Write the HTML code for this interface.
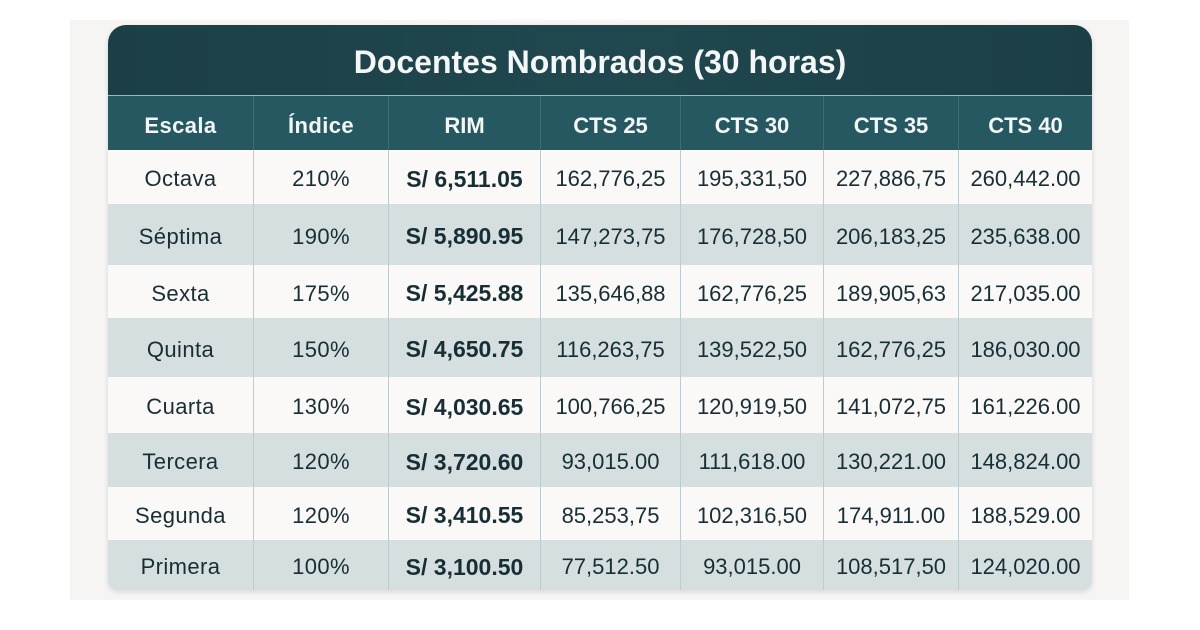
<!DOCTYPE html>
<html><head><meta charset="utf-8">
<style>
html,body{margin:0;padding:0;background:#ffffff;}
body{width:1200px;height:630px;position:relative;overflow:hidden;font-family:"Liberation Sans",sans-serif;}
.panel{position:absolute;left:70px;top:20px;width:1059px;height:580px;background:#f7f5f4;}
.tbl{position:absolute;left:108px;top:25px;width:984px;height:565px;border-radius:18px 18px 10px 10px;overflow:hidden;box-shadow:0 2px 6px rgba(0,0,0,0.12);background:#fbf9f8;}
.title{position:absolute;left:0;top:0;width:984px;height:70px;background:linear-gradient(90deg,#1c3f46,#20474f 50%,#1c3f46);color:#f4f7f7;font-weight:bold;font-size:32px;text-align:center;line-height:74px;}
.sep{position:absolute;left:0;top:70px;width:984px;height:1px;background:#9db8bd;}
.row{position:absolute;left:0;width:984px;display:flex;}
.row div{box-sizing:border-box;display:flex;align-items:center;justify-content:center;border-right:1px solid #bccbce;font-size:22px;color:#172e34;padding-top:4px;}
.row div:last-child{border-right:none;}
.hdr{top:71px;height:54px;background:#265862;}
.hdr div{color:#f2f6f6;font-weight:bold;border-right:1px solid #3d6d76;padding-top:6px;}
.w{background:#fbf9f8;}
.g{background:#d5dfe0;}
.c1{width:146px}.c2{width:135px}.c3{width:152px}.c4{width:140px}.c5{width:143px}.c6{width:135px}.c7{width:133px}
.c1,.c2{letter-spacing:0.4px;}
.b{font-weight:bold;font-size:23px !important;}
</style></head><body>
<div class="panel"></div>
<div class="tbl">
<div class="title">Docentes Nombrados (30 horas)</div>
<div class="sep"></div>
<div class="row hdr"><div class="c1">Escala</div><div class="c2">Índice</div><div class="c3">RIM</div><div class="c4">CTS 25</div><div class="c5">CTS 30</div><div class="c6">CTS 35</div><div class="c7">CTS 40</div></div>
<div class="row w" style="top:125px;height:54px"><div class="c1">Octava</div><div class="c2">210%</div><div class="c3 b">S/ 6,511.05</div><div class="c4">162,776,25</div><div class="c5">195,331,50</div><div class="c6">227,886,75</div><div class="c7">260,442.00</div></div>
<div class="row g" style="top:179px;height:61px"><div class="c1">Séptima</div><div class="c2">190%</div><div class="c3 b">S/ 5,890.95</div><div class="c4">147,273,75</div><div class="c5">176,728,50</div><div class="c6">206,183,25</div><div class="c7">235,638.00</div></div>
<div class="row w" style="top:240px;height:53px"><div class="c1">Sexta</div><div class="c2">175%</div><div class="c3 b">S/ 5,425.88</div><div class="c4">135,646,88</div><div class="c5">162,776,25</div><div class="c6">189,905,63</div><div class="c7">217,035.00</div></div>
<div class="row g" style="top:293px;height:59px"><div class="c1">Quinta</div><div class="c2">150%</div><div class="c3 b">S/ 4,650.75</div><div class="c4">116,263,75</div><div class="c5">139,522,50</div><div class="c6">162,776,25</div><div class="c7">186,030.00</div></div>
<div class="row w" style="top:352px;height:56px"><div class="c1">Cuarta</div><div class="c2">130%</div><div class="c3 b">S/ 4,030.65</div><div class="c4">100,766,25</div><div class="c5">120,919,50</div><div class="c6">141,072,75</div><div class="c7">161,226.00</div></div>
<div class="row g" style="top:408px;height:54px"><div class="c1">Tercera</div><div class="c2">120%</div><div class="c3 b">S/ 3,720.60</div><div class="c4">93,015.00</div><div class="c5">111,618.00</div><div class="c6">130,221.00</div><div class="c7">148,824.00</div></div>
<div class="row w" style="top:462px;height:53px"><div class="c1">Segunda</div><div class="c2">120%</div><div class="c3 b">S/ 3,410.55</div><div class="c4">85,253,75</div><div class="c5">102,316,50</div><div class="c6">174,911.00</div><div class="c7">188,529.00</div></div>
<div class="row g" style="top:515px;height:50px"><div class="c1">Primera</div><div class="c2">100%</div><div class="c3 b">S/ 3,100.50</div><div class="c4">77,512.50</div><div class="c5">93,015.00</div><div class="c6">108,517,50</div><div class="c7">124,020.00</div></div>
</div>
</body></html>
